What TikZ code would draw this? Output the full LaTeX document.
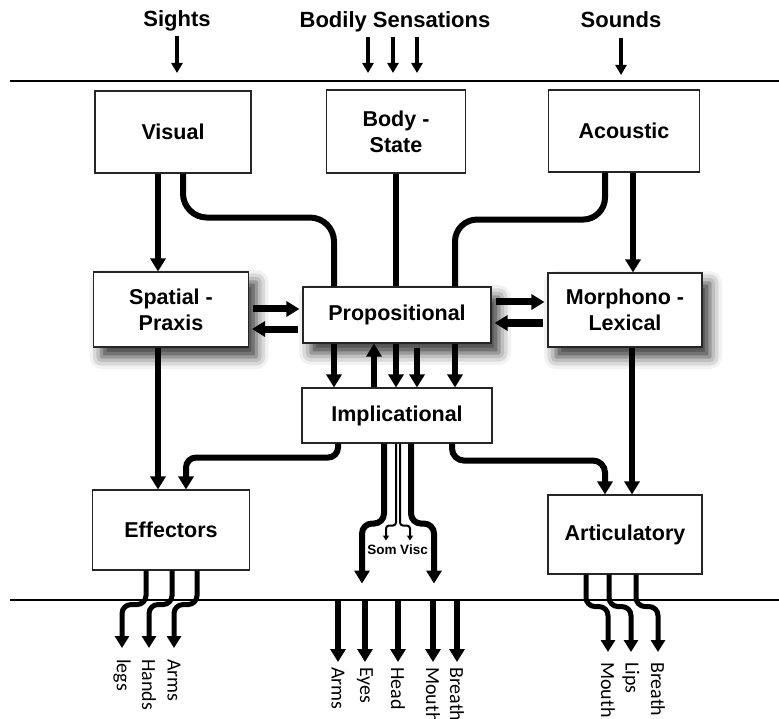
\documentclass[tikz,border=0pt]{standalone}
\usepackage{fontspec}
\setmainfont{Liberation Sans}
\newfontfamily\labfont{Carlito}
\usetikzlibrary{arrows.meta,shadows.blur}

\begin{document}
\begin{tikzpicture}[x=1pt,y=-1pt,
    box/.style={draw=black!85,line width=1.1pt,fill=white,align=center,inner sep=0pt,
      font=\bfseries\fontsize{21.5}{26}\selectfont},
    shbox/.style={box,blur shadow={shadow xshift=8pt,shadow yshift=-10pt,shadow blur radius=12pt,shadow opacity=80}},
    title/.style={font=\bfseries\fontsize{22}{22}\selectfont,inner sep=0pt,anchor=base},
    outlab/.style={font=\labfont\fontsize{20}{20}\selectfont,rotate=-90,anchor=west,inner sep=0pt},
    rule/.style={line width=1.4pt},
    flow/.style={line width=6pt},
    flowarr/.style={line width=6pt,-{Triangle[width=15pt,length=13pt]}},
    bigarr/.style={line width=7pt,-{Triangle[width=15pt,length=13pt]},shorten <=4pt,shorten >=3pt},
    inarr/.style={line width=4pt,-{Triangle[width=11pt,length=10pt]}},
    outarr/.style={line width=5pt,-{Triangle[width=14pt,length=12pt]}},
    thinarr/.style={line width=2pt,-{Triangle[width=6pt,length=5pt]}}]
\useasboundingbox (0,0) rectangle (779,719);

\node[title] (sights) at (177,27) {Sights};
\node[title] (bodily) at (395,28) {Bodily Sensations};
\node[title] (sounds) at (621,28) {Sounds};
\coordinate (tl) at (10,81);
\coordinate (tr) at (779,81);
\draw[rule] (tl) -- (tr);
\coordinate (bl) at (10,600);
\coordinate (br) at (779,600);
\draw[rule] (bl) -- (br);

\node[box,minimum width=156pt,minimum height=82pt] (visual) at (173,132) {Visual};
\node[box,minimum width=139pt,minimum height=83pt] (body) at (396,131.5) {Body -\\State};
\node[box,minimum width=151pt,minimum height=82pt] (acoustic) at (624,131) {Acoustic};
\node[shbox,minimum width=155pt,minimum height=75pt] (spatial) at (171,309.5) {Spatial -\\Praxis};
\node[shbox,minimum width=188pt,minimum height=56pt] (prop) at (397,315) {Propositional};
\node[shbox,minimum width=154pt,minimum height=74pt] (morph) at (625,310) {Morphono -\\Lexical};
\node[box,minimum width=190pt,minimum height=55pt] (impl) at (397,415.5) {Implicational};
\node[box,minimum width=157pt,minimum height=80pt] (effect) at (171,530) {Effectors};
\node[box,minimum width=154pt,minimum height=79pt] (artic) at (625,534.5) {Articulatory};

\draw[inarr] ([yshift=-9pt]sights.base) -- ++(0,37);
\foreach \dx in {-27,-2,22}
  \draw[inarr] ([xshift=\dx pt,yshift=-9pt]bodily.base) -- ++(0,36);
\draw[inarr] ([yshift=-10pt]sounds.base) -- ++(0,37);

\draw[flowarr] ([xshift=-15pt]visual.south) -- ([xshift=-13pt]spatial.north);
\draw[flow,rounded corners=24pt] ([xshift=10pt]visual.south) -- ++(0,44) -| ([xshift=-63pt]prop.north);
\draw[flow] (body.south) -- (body.south |- prop.north);
\draw[flow,rounded corners=22pt] ([xshift=-19pt]acoustic.south) -- ++(0,47) -| ([xshift=58pt]prop.north);
\draw[flowarr] ([xshift=9pt]acoustic.south) -- ([xshift=8pt]morph.north);

\coordinate (sp1) at ([yshift=6pt]prop.west);
\coordinate (sp2) at ([yshift=-14pt]prop.west);
\draw[bigarr] (sp1 -| spatial.east) -- (sp1);
\draw[bigarr] (sp2) -- (sp2 -| spatial.east);
\coordinate (pm1) at ([yshift=13pt]prop.east);
\coordinate (pm2) at ([yshift=-8pt]prop.east);
\draw[bigarr] (pm1) -- (pm1 -| morph.west);
\draw[bigarr] (pm2 -| morph.west) -- (pm2);

\foreach \dx in {-63,-1,58}
  \draw[flowarr] ([xshift=\dx pt]prop.south) -- ([xshift=\dx pt]impl.north);
\draw[flowarr] ([xshift=-23pt]impl.north) -- ([xshift=-23pt]prop.south);
\draw[flowarr] ([xshift=20pt,yshift=-4pt]prop.south) -- ([xshift=20pt]impl.north);

\draw[flowarr] ([xshift=-13pt]spatial.south) -- ([xshift=-13pt]effect.north);
\draw[flowarr,rounded corners=10pt] ([xshift=-59pt]impl.south) -- ++(0,14) -| ([xshift=15pt]effect.north);
\draw[flowarr,rounded corners=12pt] ([xshift=55pt]impl.south) -- ++(0,17) -| ([xshift=-20pt]artic.north);
\draw[flowarr] ([xshift=7pt]morph.south) -- ([xshift=7pt]artic.north);

\draw[flowarr,rounded corners=10pt] ([xshift=-13pt]impl.south) -- ++(0,80) -- ++(-22,0) -- ++(0,60);
\draw[flowarr,rounded corners=10pt] ([xshift=14pt]impl.south) -- ++(0,80) -- ++(23,0) -- ++(0,60);
\draw[thinarr,rounded corners=3pt] ([xshift=-1pt]impl.south) -- ++(0,82) -- ++(-10,0) -- ++(0,15);
\draw[thinarr,rounded corners=3pt] ([xshift=3pt]impl.south) -- ++(0,82) -- ++(10,0) -- ++(0,15);
\node[font=\bfseries\fontsize{13.5}{14}\selectfont] (som) at (382,550) {Som};
\node[font=\bfseries\fontsize{13.5}{14}\selectfont] (visc) at (414,550) {Visc};

\node[outlab] (legs) at (122,659) {legs};
\node[outlab] (hands) at (149,659) {Hands};
\node[outlab] (arms1) at (174,659) {Arms};
\draw[outarr,rounded corners=9pt] ([xshift=-25pt]effect.south) -- ++(0,34) -| ([yshift=11pt]legs.west);
\draw[outarr,rounded corners=9pt] ([xshift=1pt]effect.south) -- ++(0,34) -| ([yshift=11pt]hands.west);
\draw[outarr,rounded corners=9pt] ([xshift=26pt]effect.south) -- ++(0,34) -| ([yshift=11pt]arms1.west);

\foreach \x/\t/\n in {338/Arms/arms2,365/Eyes/eyes,398/Head/head,433/Mouth/mouth2,457/Breath/breath2}{
  \node[outlab] (\n) at (\x,667) {\t};
  \draw[flowarr] (\n.west |- bl) -- ([yshift=5pt]\n.west);
}

\node[outlab] (mouth1) at (608,662) {Mouth};
\node[outlab] (lips) at (631,662) {Lips};
\node[outlab] (breath1) at (658,662) {Breath};
\draw[outarr,rounded corners=9pt] ([xshift=-39pt]artic.south) -- ++(0,32) -| ([yshift=10pt]mouth1.west);
\draw[outarr,rounded corners=9pt] ([xshift=-16pt]artic.south) -- ++(0,32) -| ([yshift=10pt]lips.west);
\draw[outarr,rounded corners=9pt] ([xshift=11pt]artic.south) -- ++(0,32) -| ([yshift=10pt]breath1.west);
\end{tikzpicture}
\end{document}
